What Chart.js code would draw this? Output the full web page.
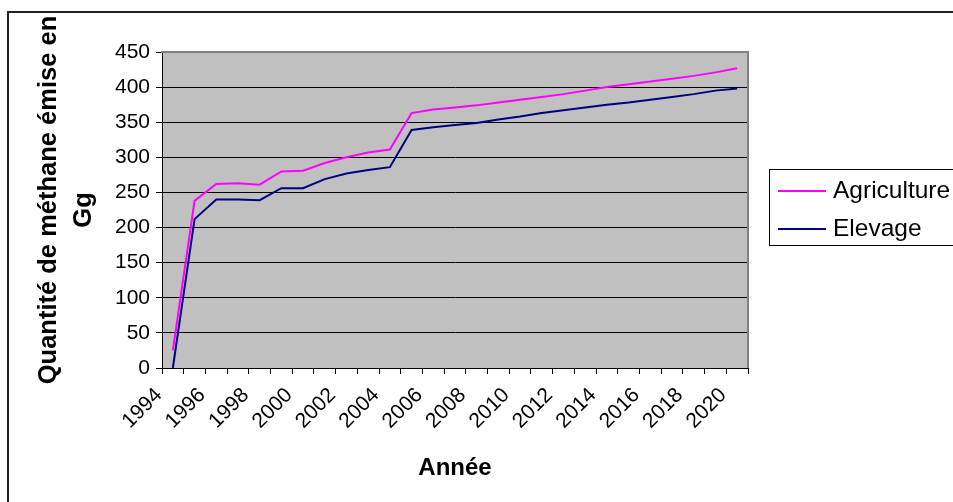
<!DOCTYPE html>
<html>
<head>
<meta charset="utf-8">
<script src="https://cdn.jsdelivr.net/npm/chart.js@4/dist/chart.umd.min.js"></script>
<style>
  html, body { margin: 0; padding: 0; background: #fff; overflow: hidden; }
  canvas { display: block; }
</style>
</head>
<body>
<canvas id="chart" width="953" height="502"></canvas>
<script>
// Émissions de méthane (Gg) par année
const years = ['1994','1995','1996','1997','1998','1999','2000','2001','2002','2003','2004','2005','2006','2007',
               '2008','2009','2010','2011','2012','2013','2014','2015','2016','2017','2018','2019','2020'];
const agriculture = [25, 238, 262, 263, 261, 280, 281, 292, 300, 307, 311, 363, 368, 371,
                     374, 378, 382, 386, 390, 395, 400, 404, 408, 412, 416, 421, 427];
const elevage = [0, 212, 240, 240, 239, 256, 256, 269, 277, 282, 286, 339, 343, 346,
                 349, 354, 358, 363, 367, 371, 375, 378, 382, 386, 390, 395, 398];
const seriesNames = ['Agriculture', 'Elevage'];
const seriesColors = ['#FF00FF', '#000080'];
const yTitleLines = ['Quantité de méthane émise en', 'Gg'];
const yMin = 0, yMax = 450, yStep = 50;

const FONT = "'Liberation Sans', Arial, sans-serif";

// Fond gris de la zone de tracé
const plotArea = {
  id: 'plotArea',
  beforeDraw(chart) {
    const { ctx, chartArea: a } = chart;
    ctx.save();
    ctx.fillStyle = '#C0C0C0';
    ctx.fillRect(a.left, a.top, a.right - a.left, a.bottom - a.top);
    ctx.restore();

    // première ligne du titre vertical légèrement remontée
    const s = chart.scales.y;
    if (s && !s._titleShifted) {
      const drawTitle = s.drawTitle;
      s.drawTitle = function () {
        const c = this.ctx;
        const fill = c.fillText;
        c.fillText = function (t, x, y, w) {
          const dx = t === yTitleLines[0] ? 10 : 0;
          return w === undefined ? fill.call(this, t, x + dx, y) : fill.call(this, t, x + dx, y, w);
        };
        drawTitle.call(this);
        delete c.fillText;
      };
      s._titleShifted = true;
    }
  },
  beforeDatasetsDraw(chart) {
    const { ctx, chartArea: a } = chart;
    ctx.save();
    ctx.strokeStyle = '#808080';
    ctx.lineWidth = 2;
    ctx.beginPath();
    ctx.moveTo(a.left - 1, a.top);
    ctx.lineTo(a.right, a.top);
    ctx.lineTo(a.right, a.bottom);
    ctx.stroke();
    ctx.restore();
  }
};

// Cadre extérieur et légende encadrée
const frameAndLegend = {
  id: 'frameAndLegend',
  afterDraw(chart) {
    const { ctx, width, height } = chart;
    ctx.save();
    ctx.fillStyle = '#222';
    ctx.fillRect(7, 11, 2, height);
    ctx.fillRect(7, 11, width, 2);

    ctx.strokeStyle = '#000';
    ctx.lineWidth = 1;
    ctx.strokeRect(769.5, 169.5, 300, 76);

    ctx.font = '24.5px ' + FONT;
    ctx.textBaseline = 'middle';
    ctx.textAlign = 'left';
    chart.data.datasets.forEach((ds, i) => {
      const y = 191 + i * 38;
      ctx.strokeStyle = ds.borderColor;
      ctx.lineWidth = 2;
      ctx.beginPath();
      ctx.moveTo(778, y);
      ctx.lineTo(826, y);
      ctx.stroke();
      ctx.fillStyle = '#000';
      ctx.fillText(ds.label, 833, y);
    });
    ctx.restore();
  }
};

new Chart(document.getElementById('chart'), {
  type: 'line',
  data: {
    labels: years,
    datasets: [
      { label: seriesNames[0], data: agriculture, borderColor: seriesColors[0], backgroundColor: seriesColors[0],
        borderWidth: 2, pointRadius: 0, tension: 0, fill: false },
      { label: seriesNames[1], data: elevage, borderColor: seriesColors[1], backgroundColor: seriesColors[1],
        borderWidth: 2, pointRadius: 0, tension: 0, fill: false }
    ]
  },
  options: {
    responsive: false,
    animation: false,
    devicePixelRatio: 1,
    layout: { padding: { left: 8, top: 52, right: 205, bottom: 16 } },
    plugins: { legend: { display: false }, tooltip: { enabled: false } },
    scales: {
      x: {
        type: 'category',
        offset: true,
        grid: { display: true, drawOnChartArea: false, drawTicks: true, tickLength: 6, color: '#000', offset: true },
        border: { display: true, color: '#000', width: 1 },
        ticks: {
          autoSkip: false, maxRotation: 45, minRotation: 45, padding: 9, labelOffset: -14,
          color: '#000', font: { family: FONT, size: 21 },
          callback: (v, i) => (i % 2 === 0 ? years[i] : '')
        },
        title: { display: true, text: 'Année', color: '#000', font: { family: FONT, size: 24, weight: 'bold' },
                 padding: { top: 4, bottom: 3 } },
        afterFit: s => { s.height = 118; }
      },
      y: {
        min: yMin, max: yMax,
        grid: { color: '#000', lineWidth: 1, tickLength: 6, drawTicks: true },
        border: { display: true, color: '#000', width: 1 },
        ticks: { stepSize: yStep, padding: 6, color: '#000', font: { family: FONT, size: 21 } },
        title: { display: true, text: yTitleLines, color: '#000',
                 font: { family: FONT, size: 25.5, weight: 'bold', lineHeight: 1.35 },
                 padding: { top: 24, bottom: 0 } },
        afterFit: s => { s.width = 154; }
      }
    }
  },
  plugins: [plotArea, frameAndLegend]
});
</script>
</body>
</html>
